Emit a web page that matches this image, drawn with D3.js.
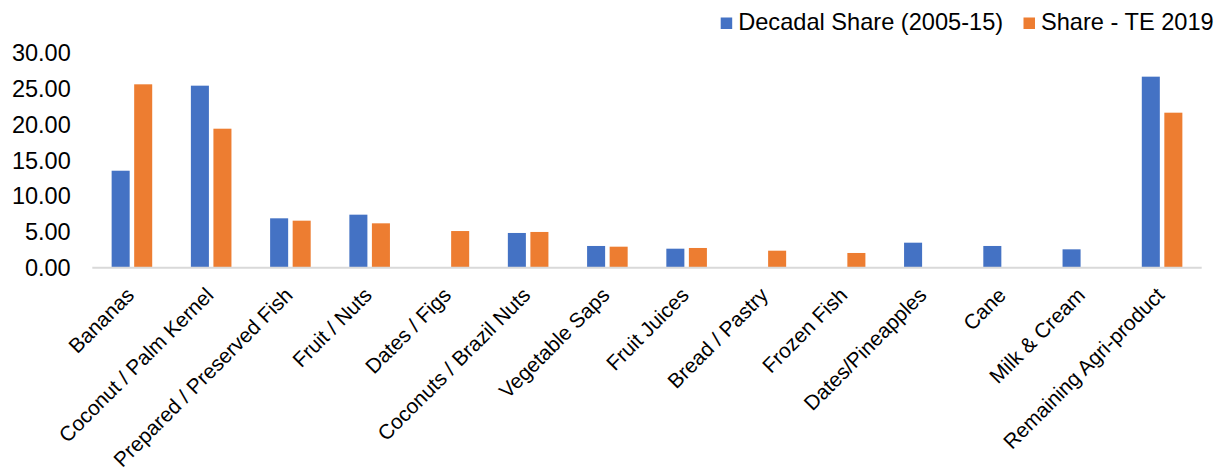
<!DOCTYPE html>
<html>
<head>
<meta charset="utf-8">
<script src="https://cdn.jsdelivr.net/npm/d3@7"></script>
<style>
  html, body { margin: 0; padding: 0; background: #fff; }
  svg { display: block; font-family: "Liberation Sans", Arial, sans-serif; }
</style>
</head>
<body>
<svg id="chart" width="1227" height="467"></svg>
<script>
// Export share by product group (%)
const categories = [
  "Bananas", "Coconut / Palm Kernel", "Prepared / Preserved Fish", "Fruit / Nuts",
  "Dates / Figs", "Coconuts / Brazil Nuts", "Vegetable Saps", "Fruit Juices",
  "Bread / Pastry", "Frozen Fish", "Dates/Pineapples", "Cane", "Milk & Cream",
  "Remaining Agri-product"
];
const seriesNames = ["Decadal Share (2005-15)", "Share - TE 2019"];
const decadalShare = [13.57, 25.47, 6.91, 7.42, 0, 4.86, 3.04, 2.66, 0, 0, 3.50, 3.04, 2.57, 26.73];
const shareTE2019  = [25.66, 19.45, 6.58, 6.21, 5.13, 5.00, 2.94, 2.76, 2.38, 2.06, 0, 0, 0, 21.69];
const yTicks = [0, 5, 10, 15, 20, 25, 30];
const colors = ["#4472C4", "#ED7D31"];

const svg = d3.select("#chart");

const plot = { left: 92.3, right: 1201.7, top: 53.3, bottom: 267.7 };

const x0 = d3.scaleBand().domain(categories).range([plot.left, plot.right]).padding(0);
const x1 = d3.scaleBand().domain(seriesNames)
  .range([x0.bandwidth() * 0.244, x0.bandwidth() * 0.756])
  .paddingInner(0.2).paddingOuter(0);
const y = d3.scaleLinear().domain([0, 30]).range([plot.bottom, plot.top]);

const values = [decadalShare, shareTE2019];
const rows = categories.map((c, i) => ({ cat: c, vals: seriesNames.map((s, k) => ({ s, k, v: values[k][i] })) }));

// Bars
const groups = svg.append("g").selectAll("g").data(rows).join("g")
  .attr("transform", d => `translate(${x0(d.cat)},0)`);
groups.selectAll("rect").data(d => d.vals.filter(v => v.v > 0)).join("rect")
  .attr("x", d => x1(d.s))
  .attr("width", x1.bandwidth())
  .attr("y", d => y(d.v))
  .attr("height", d => y(0) - y(d.v))
  .attr("fill", d => colors[d.k]);

// Category axis line
svg.append("line")
  .attr("x1", plot.left).attr("x2", plot.right)
  .attr("y1", y(0)).attr("y2", y(0))
  .attr("stroke", "#d9d9d9").attr("stroke-width", 2);

// Value axis labels
const yAxis = d3.axisLeft(y).tickValues(yTicks).tickFormat(d3.format(".2f")).tickSize(0).tickPadding(0);
const yg = svg.append("g").attr("transform", "translate(70.7,0)").call(yAxis);
yg.select(".domain").remove();
yg.selectAll("text")
  .attr("font-family", "Liberation Sans, Arial, sans-serif")
  .attr("font-size", "23.5px").attr("fill", "#000");

// Rotated category labels
svg.append("g").selectAll("text").data(categories).join("text")
  .attr("transform", d => `translate(${x0(d) + x0.bandwidth() / 2 + 3.5},296.5) rotate(-45)`)
  .attr("text-anchor", "end")
  .attr("font-size", "20.8px")
  .attr("fill", "#000")
  .text(d => d);

// Legend
const legendItems = [
  { name: seriesNames[0], color: colors[0], x: 720.7 },
  { name: seriesNames[1], color: colors[1], x: 1023.5 }
];
const lg = svg.append("g").selectAll("g").data(legendItems).join("g")
  .attr("transform", d => `translate(${d.x},0)`);
lg.append("rect").attr("x", 0).attr("y", 17.5).attr("width", 11.5).attr("height", 11.5)
  .attr("fill", d => d.color);
lg.append("text").attr("x", 17.5).attr("y", 29.5)
  .attr("font-size", "23.6px").attr("fill", "#000")
  .text(d => d.name);
</script>
</body>
</html>
